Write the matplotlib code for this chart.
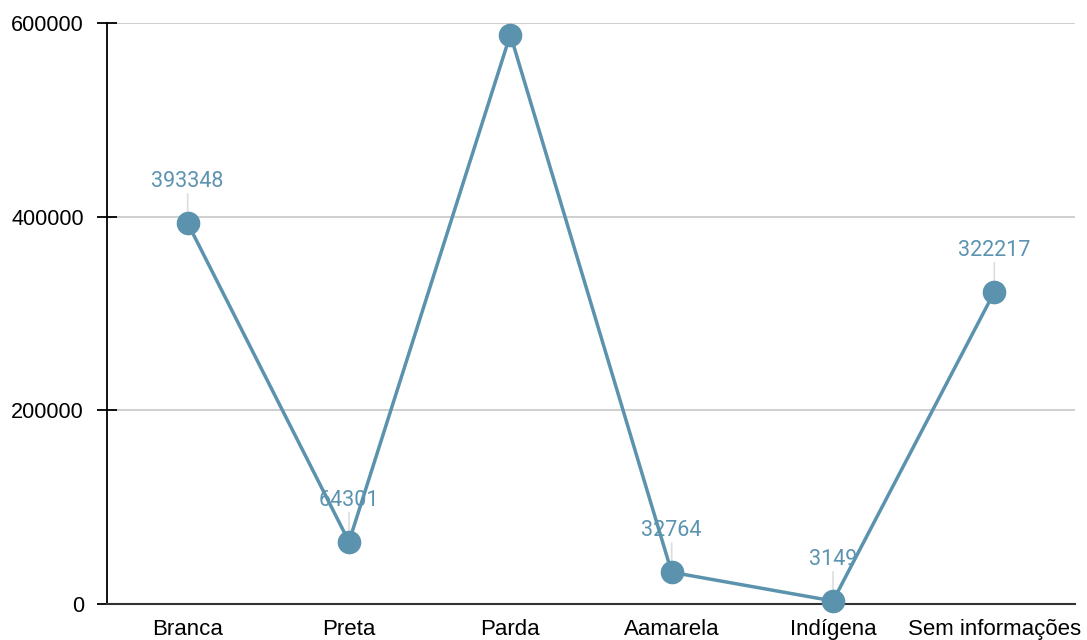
import matplotlib.pyplot as plt

# --- Data ---
categories = ["Branca", "Preta", "Parda", "Aamarela", "Indígena", "Sem informações"]
values = [393348, 64301, 588000, 32764, 3149, 322217]
y_ticks = [0, 200000, 400000, 600000]

line_color = "#5b93ae"
label_color = "#5b93b0"

plt.rcParams['font.family'] = ['Liberation Sans', 'DejaVu Sans']

fig = plt.figure(figsize=(10.87, 6.40), dpi=100)
ax = fig.add_axes([107 / 1087, 36 / 640, 968 / 1087, 581 / 640])

x = list(range(len(categories)))
ax.plot(x, values, color=line_color, linewidth=2.5, marker='o', markersize=16,
        clip_on=False, zorder=3)

# value labels with a short leader line (the top one does not fit and is hidden)
for xi, v in zip(x, values):
    if v > 550000:
        continue
    ax.annotate("", xy=(xi, v), xytext=(0, 21), textcoords='offset points',
                arrowprops=dict(arrowstyle='-', color='#dddddd', lw=1.2,
                                shrinkA=0, shrinkB=8), zorder=2)
    ax.annotate(str(v), xy=(xi, v), xytext=(0, 30), textcoords='offset points',
                ha='center', va='center', fontsize=15.5, color=label_color,
                family=['Roboto', 'DejaVu Sans'], zorder=4)

ax.set_xlim(-0.5, len(categories) - 0.5)
ax.set_ylim(0, 600000)
ax.set_yticks(y_ticks)
ax.set_yticklabels([str(t) for t in y_ticks], fontsize=15.6)
ax.set_xticks(x)
ax.set_xticklabels(categories, fontsize=16)
ax.tick_params(axis='x', length=0, pad=11)
ax.tick_params(axis='y', direction='inout', length=15, width=1.3, pad=9)

ax.grid(axis='y', color='#cccccc', linewidth=1.3)
ax.set_axisbelow(True)
for s in ['top', 'right']:
    ax.spines[s].set_visible(False)
ax.spines['left'].set_color('black')
ax.spines['left'].set_linewidth(1.3)
ax.spines['bottom'].set_color('#333333')
ax.spines['bottom'].set_linewidth(1.5)

fig.savefig("out.png", dpi=100)
